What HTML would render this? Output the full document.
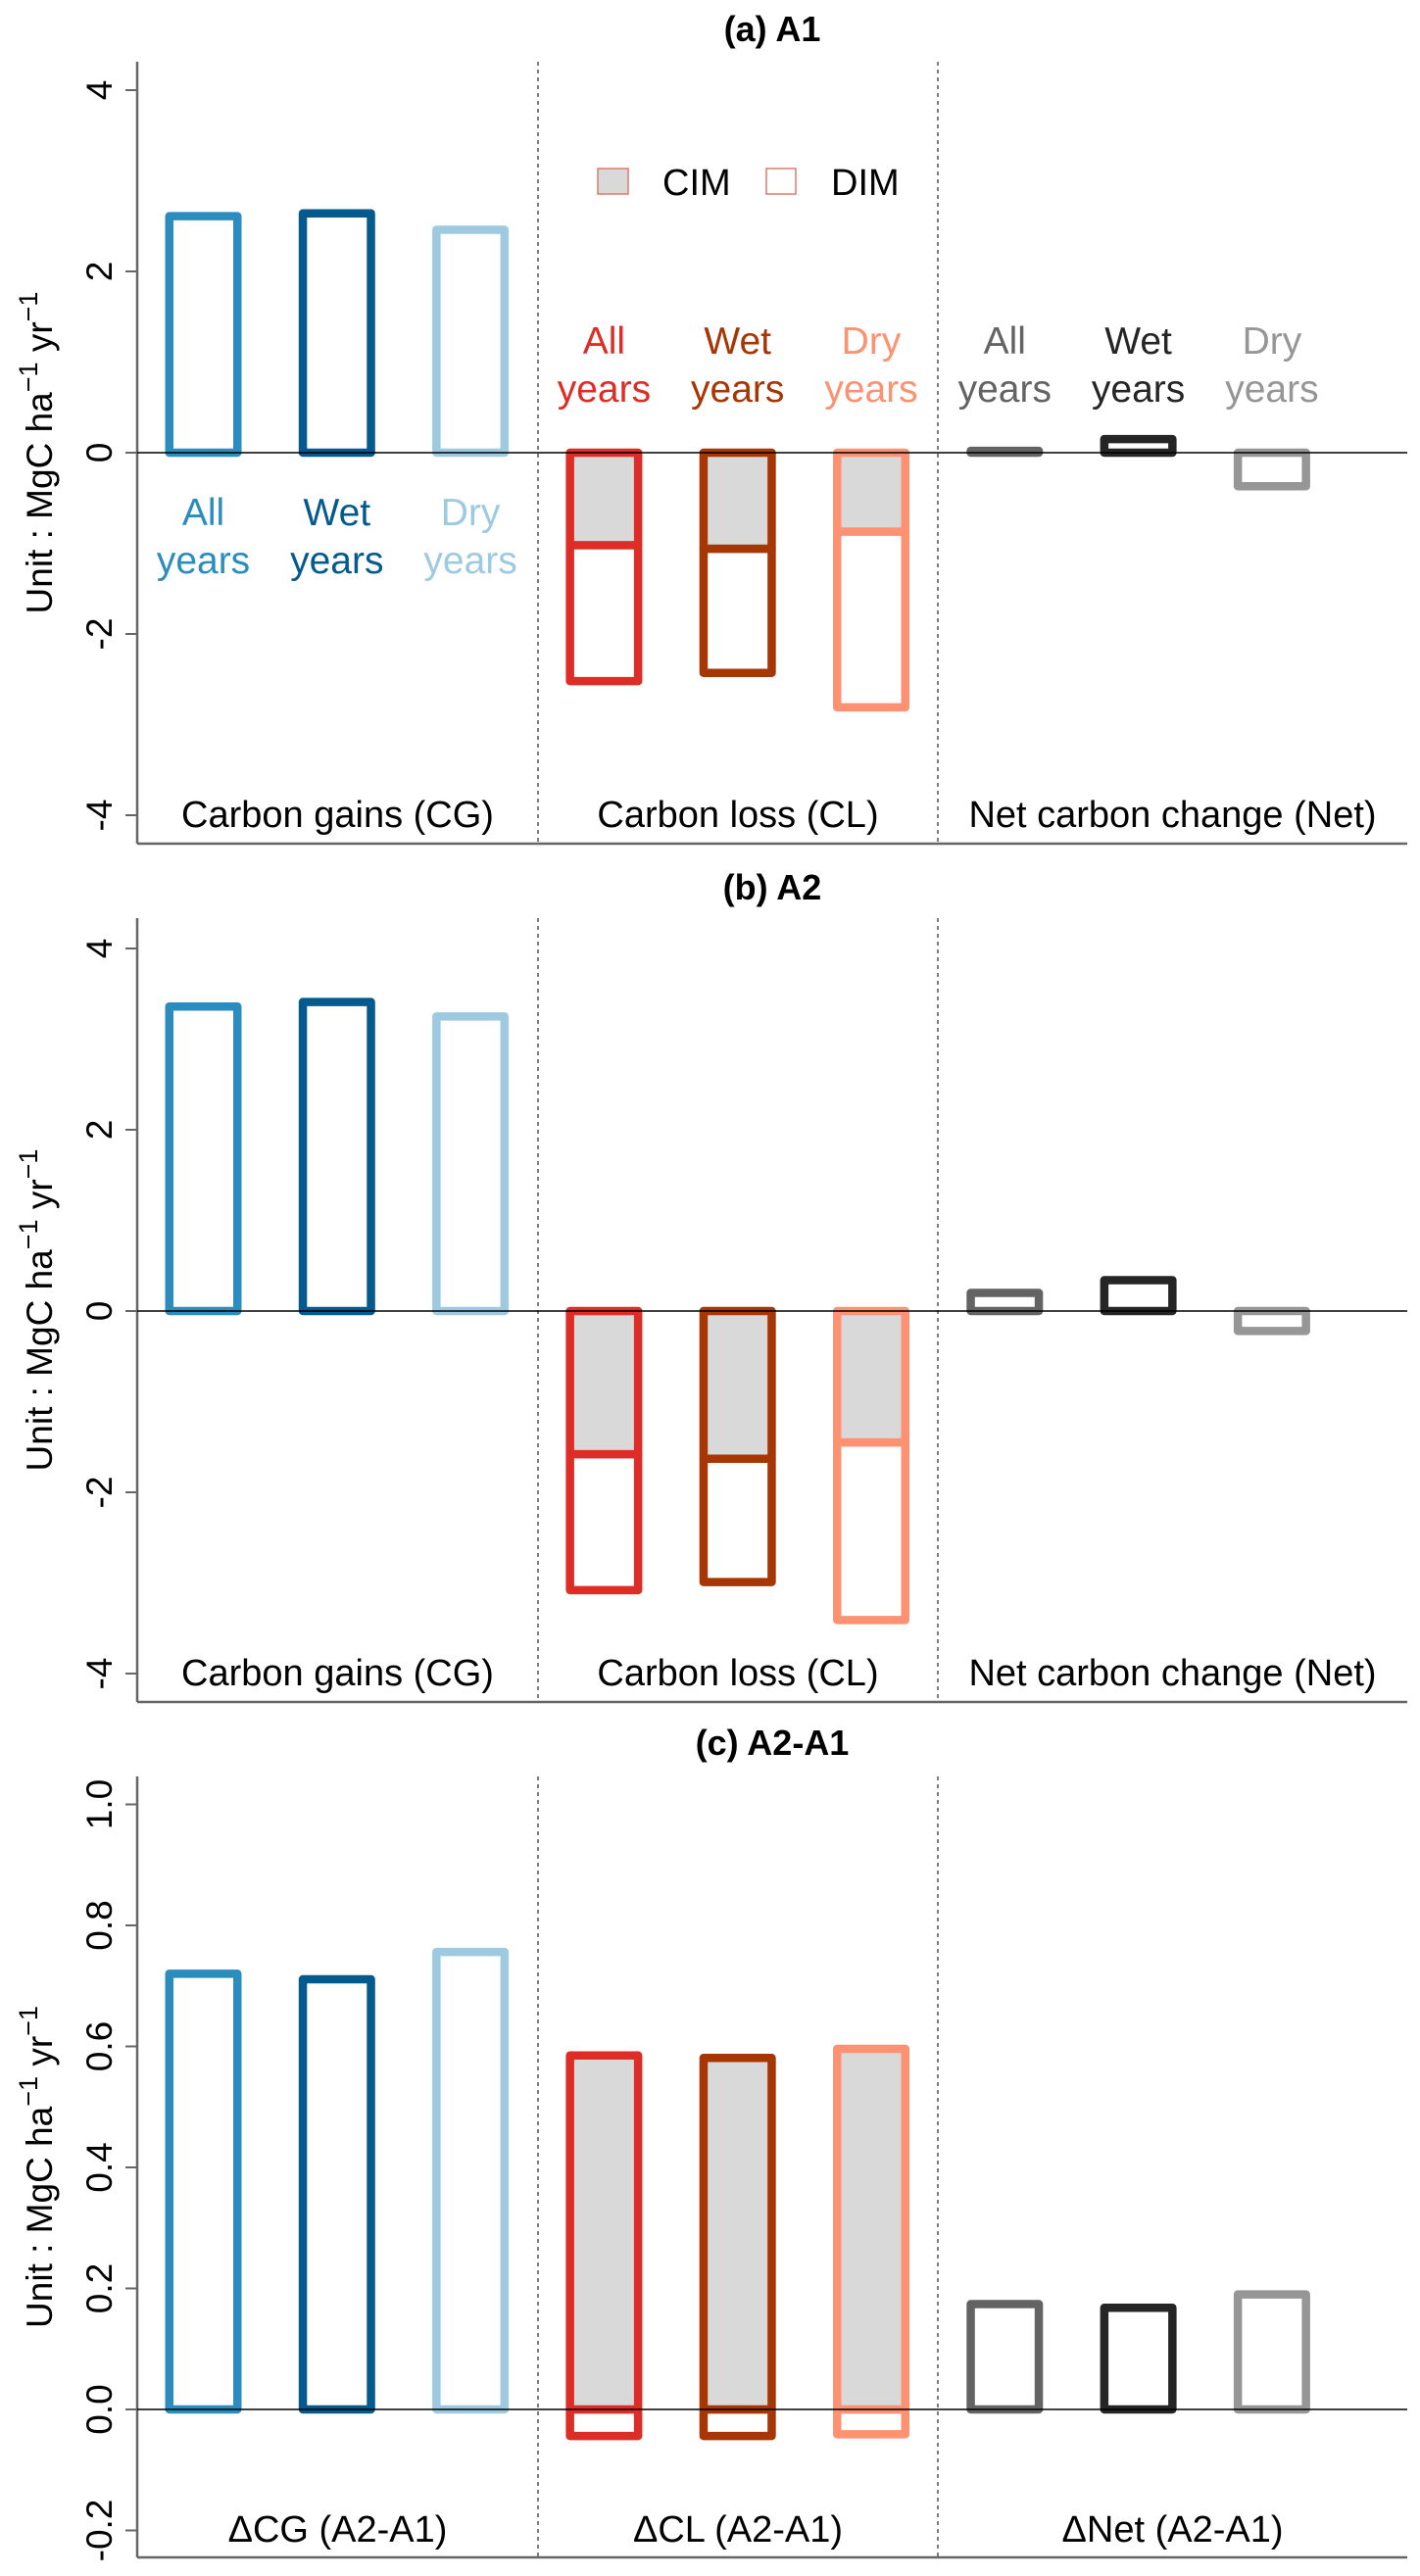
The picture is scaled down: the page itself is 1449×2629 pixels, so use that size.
<!DOCTYPE html>
<html><head><meta charset="utf-8"><style>
html,body{margin:0;padding:0;background:#fff;}
svg{display:block;font-family:"Liberation Sans",Arial,sans-serif;}
</style></head><body>
<svg id="chart" width="1449" height="2629" viewBox="0 0 1449 2629" xmlns="http://www.w3.org/2000/svg"></svg>
<script>
// ---- data ----
const groupLabels = ["All", "Wet", "Dry"];
const sectionLabelsAB = ["Carbon gains (CG)", "Carbon loss (CL)", "Net carbon change (Net)"];
const sectionLabelsC = ["\u0394CG (A2-A1)", "\u0394CL (A2-A1)", "\u0394Net (A2-A1)"];
const ticksAB = [4, 2, 0, -2, -4];
const tickLabelsAB = ["4", "2", "0", "-2", "-4"];
const ticksC = [1.0, 0.8, 0.6, 0.4, 0.2, 0.0, -0.2];
const tickLabelsC = ["1.0", "0.8", "0.6", "0.4", "0.2", "0.0", "-0.2"];
// panel a (A1)
const gainsA = [2.61, 2.64, 2.46];
const cimA = [-1.02, -1.06, -0.87];
const dimA = [-1.50, -1.37, -1.94];
const netA = [0.02, 0.15, -0.37];
// panel b (A2)
const gainsB = [3.36, 3.41, 3.25];
const cimB = [-1.58, -1.63, -1.45];
const dimB = [-1.50, -1.36, -1.96];
const netB = [0.20, 0.34, -0.22];
// panel c (A2-A1)
const gainsC = [0.72, 0.711, 0.756];
const cimC = [0.585, 0.581, 0.596];
const dimC = [-0.044, -0.044, -0.041];
const netC = [0.174, 0.168, 0.19];

const blueCols = ["#2b8cbe", "#045a8d", "#9ecae1"];
const redCols = ["#de2d26", "#a63603", "#fc9272"];
const grayCols = ["#636363", "#252525", "#969696"];

const NS = "http://www.w3.org/2000/svg";
const svg = document.getElementById("chart");
const X0 = 140, X1 = 1436, DIV1 = 549, DIV2 = 957;
const C0 = 207.5, STEP = 136.3, HALF = 34.75, SW = 8.5;

function mk(tag, attrs, parent) {
  const e = document.createElementNS(NS, tag);
  for (const k in attrs) e.setAttribute(k, attrs[k]);
  (parent || svg).appendChild(e);
  return e;
}
function xc(i) { return C0 + STEP * i; }

function panel(p) {
  const g = mk("g", {});
  
  
  const y = v => p.zero - v * p.scale;
  const t = mk("text", {x: 788, y: p.titleY, "text-anchor": "middle", "font-size": 36, "font-weight": "bold", fill: "#000"}, g);
  t.textContent = p.title;
  
  
  [DIV1, DIV2].forEach(dx => {
    const l = mk("line", {x1: dx, x2: dx, y1: p.top, y2: p.bottom, stroke: "#555", "stroke-width": 1.5, "stroke-dasharray": "4,4"}, g);
    
    
  });
  const ya = mk("line", {x1: X0, x2: X0, y1: p.top, y2: p.bottom, stroke: "#666", "stroke-width": 2.5}, g);
  
  
  const xa = mk("line", {x1: X0, x2: X1, y1: p.bottom, y2: p.bottom, stroke: "#666", "stroke-width": 2.5}, g);
  
  
  p.ticks.forEach((v, i) => {
    const ty = y(v);
    const tk = mk("line", {x1: 128, x2: X0, y1: ty, y2: ty, stroke: "#666", "stroke-width": 2}, g);
    
    
    const tl = mk("text", {x: 0, y: 0, "text-anchor": "middle", "font-size": 37, fill: "#000", transform: "translate(114," + ty + ") rotate(-90)"}, g);
    tl.textContent = p.tickLabels[i];
    
    
  });
  const yt = mk("text", {x: 0, y: 0, "text-anchor": "middle", "font-size": 37, fill: "#000", transform: "translate(53," + ((p.top + p.bottom) / 2) + ") rotate(-90)"}, g);
  
  
  yt.appendChild(document.createTextNode("Unit : MgC ha"));
  let s1 = mk("tspan", {"baseline-shift": "super", "font-size": 27}, yt); s1.textContent = "\u22121";
  let s2 = mk("tspan", {}, yt); s2.textContent = " yr";
  let s3 = mk("tspan", {"baseline-shift": "super", "font-size": 27}, yt); s3.textContent = "\u22121";
  function rect(i, v0, v1, col, fill, nm) {
    const ya_ = y(Math.max(v0, v1)), yb = y(Math.min(v0, v1));
    const r = mk("rect", {x: xc(i) - HALF, y: ya_, width: 2 * HALF, height: Math.max(yb - ya_, 0.01), fill: fill, stroke: col, "stroke-width": SW, "stroke-linejoin": "round"}, g);
    
    
  }
  p.gains.forEach((v, i) => rect(i, 0, v, blueCols[i], "none", "gain-bar-" + groupLabels[i].toLowerCase()));
  p.cim.forEach((c, i) => {
    const d = p.dim[i];
    if (Math.sign(c) === Math.sign(d)) rect(3 + i, c, c + d, redCols[i], "none", "loss-dim-bar-" + groupLabels[i].toLowerCase());
    else rect(3 + i, 0, d, redCols[i], "none", "loss-dim-bar-" + groupLabels[i].toLowerCase());
    rect(3 + i, 0, c, redCols[i], "#d9d9d9", "loss-cim-bar-" + groupLabels[i].toLowerCase());
  });
  p.net.forEach((v, i) => rect(6 + i, 0, v, grayCols[i], "none", "net-bar-" + groupLabels[i].toLowerCase()));
  const z = mk("line", {x1: X0, x2: X1, y1: p.zero, y2: p.zero, stroke: "#000", "stroke-width": 1.5}, g);
  
  
  const secX = [(X0 + DIV1) / 2, (DIV1 + DIV2) / 2, (DIV2 + X1) / 2];
  p.sections.forEach((s, i) => {
    const st = mk("text", {x: secX[i], y: p.secY, "text-anchor": "middle", "font-size": 38, fill: "#000"}, g);
    st.textContent = s;
    
    
  });
  if (p.barLabels) {
    const sets = [[0, blueCols, 536, "gain"], [3, redCols, 361, "loss"], [6, grayCols, 361, "net"]];
    sets.forEach(([off, cols, by, nm]) => {
      groupLabels.forEach((gl, i) => {
        const a = mk("text", {x: xc(off + i), y: by, "text-anchor": "middle", "font-size": 39, fill: cols[i]}, g);
        a.textContent = gl;
        
        
        const b = mk("text", {x: xc(off + i), y: by + 49, "text-anchor": "middle", "font-size": 39, fill: cols[i]}, g);
        b.textContent = "years";
        
        
      });
    });
  }
  if (p.legend) {
    const lg = mk("g", {}, g);
    
    
    const r1 = mk("rect", {x: 610, y: 172, width: 31, height: 26, fill: "#d9d9d9", stroke: "#e07a6a", "stroke-width": 1.5}, lg);
    
    
    const t1 = mk("text", {x: 676, y: 199, "font-size": 38, fill: "#000"}, lg);
    t1.textContent = "CIM";
    
    
    const r2 = mk("rect", {x: 782, y: 172, width: 30, height: 26, fill: "#fff", stroke: "#e07a6a", "stroke-width": 1.5}, lg);
    
    
    const t2 = mk("text", {x: 848, y: 199, "font-size": 38, fill: "#000"}, lg);
    t2.textContent = "DIM";
    
    
  }
}

panel({name: "panel-a", title: "(a) A1", titleY: 42, top: 63, zero: 462, bottom: 861, scale: 92.5,
  ticks: ticksAB, tickLabels: tickLabelsAB, gains: gainsA, cim: cimA, dim: dimA, net: netA,
  sections: sectionLabelsAB, secY: 844, barLabels: true, legend: true});
panel({name: "panel-b", title: "(b) A2", titleY: 918, top: 937, zero: 1338, bottom: 1737, scale: 92.5,
  ticks: ticksAB, tickLabels: tickLabelsAB, gains: gainsB, cim: cimB, dim: dimB, net: netB,
  sections: sectionLabelsAB, secY: 1720, barLabels: false, legend: false});
panel({name: "panel-c", title: "(c) A2-A1", titleY: 1791, top: 1813, zero: 2459, bottom: 2610, scale: 617.5,
  ticks: ticksC, tickLabels: tickLabelsC, gains: gainsC, cim: cimC, dim: dimC, net: netC,
  sections: sectionLabelsC, secY: 2594, barLabels: false, legend: false});
</script>
</body></html>
